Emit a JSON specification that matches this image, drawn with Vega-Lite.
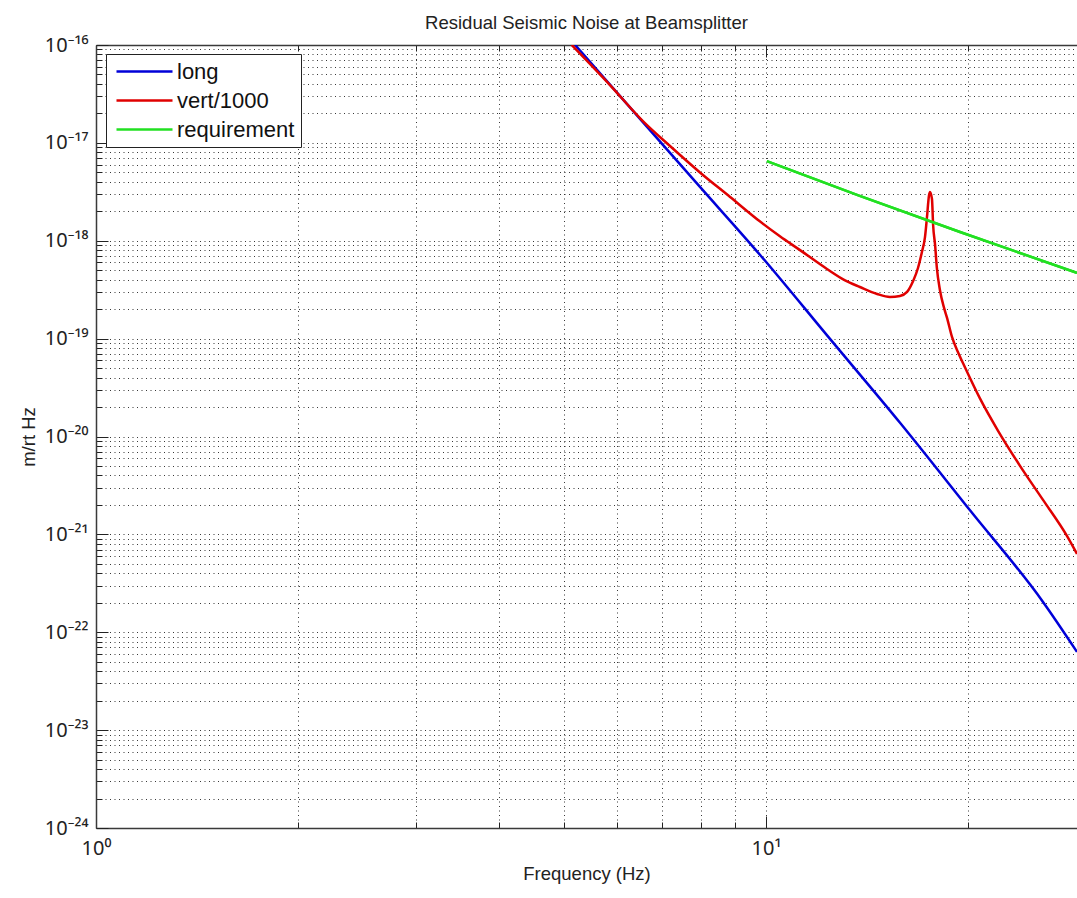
{
  "$schema": "https://vega.github.io/schema/vega-lite/v6.json",
  "autosize": {"type": "none"},
  "padding": {"left": 96, "top": 45, "right": 0, "bottom": 70},
  "width": 981,
  "height": 783,
  "background": "white",
  "title": {"text": "Residual Seismic Noise at Beamsplitter", "font": "Liberation Sans", "fontSize": 18.5, "fontWeight": "normal", "color": "#222", "offset": 3, "anchor": "middle"},
  "config": {"view": {"stroke": null}, "font": "Liberation Sans"},
  "data": {"values": [
    {"series": "long", "f": 5.19, "amp": 1.0e-16},
    {"series": "long", "f": 6.55, "amp": 1.63e-17},
    {"series": "long", "f": 7.97, "amp": 3.55e-18},
    {"series": "long", "f": 9.80, "amp": 7.16e-19},
    {"series": "long", "f": 12.46, "amp": 9.93e-20},
    {"series": "long", "f": 15.85, "amp": 1.38e-20},
    {"series": "long", "f": 20.16, "amp": 1.76e-21},
    {"series": "long", "f": 25.91, "amp": 2.04e-22},
    {"series": "long", "f": 29.12, "amp": 6.3e-23},
    {"series": "vert/1000", "f": 5.13, "amp": 1.0e-16},
    {"series": "vert/1000", "f": 5.85, "amp": 3.9e-17},
    {"series": "vert/1000", "f": 6.55, "amp": 1.67e-17},
    {"series": "vert/1000", "f": 7.19, "amp": 9.29e-18},
    {"series": "vert/1000", "f": 7.97, "amp": 4.99e-18},
    {"series": "vert/1000", "f": 8.84, "amp": 2.80e-18},
    {"series": "vert/1000", "f": 9.80, "amp": 1.57e-18},
    {"series": "vert/1000", "f": 10.49, "amp": 1.11e-18},
    {"series": "vert/1000", "f": 11.24, "amp": 8.02e-19},
    {"series": "vert/1000", "f": 12.33, "amp": 5.15e-19},
    {"series": "vert/1000", "f": 13.12, "amp": 3.94e-19},
    {"series": "vert/1000", "f": 13.81, "amp": 3.37e-19},
    {"series": "vert/1000", "f": 14.65, "amp": 2.86e-19},
    {"series": "vert/1000", "f": 15.31, "amp": 2.67e-19},
    {"series": "vert/1000", "f": 15.85, "amp": 2.73e-19},
    {"series": "vert/1000", "f": 16.24, "amp": 3.0e-19},
    {"series": "vert/1000", "f": 16.58, "amp": 3.88e-19},
    {"series": "vert/1000", "f": 16.86, "amp": 5.27e-19},
    {"series": "vert/1000", "f": 17.09, "amp": 7.69e-19},
    {"series": "vert/1000", "f": 17.27, "amp": 1.09e-18},
    {"series": "vert/1000", "f": 17.39, "amp": 1.75e-18},
    {"series": "vert/1000", "f": 17.51, "amp": 2.9e-18},
    {"series": "vert/1000", "f": 17.57, "amp": 3.15e-18},
    {"series": "vert/1000", "f": 17.69, "amp": 2.67e-18},
    {"series": "vert/1000", "f": 17.76, "amp": 1.45e-18},
    {"series": "vert/1000", "f": 17.88, "amp": 9.06e-19},
    {"series": "vert/1000", "f": 17.99, "amp": 5.27e-19},
    {"series": "vert/1000", "f": 18.18, "amp": 3.14e-19},
    {"series": "vert/1000", "f": 18.44, "amp": 2.06e-19},
    {"series": "vert/1000", "f": 18.63, "amp": 1.63e-19},
    {"series": "vert/1000", "f": 18.95, "amp": 1.04e-19},
    {"series": "vert/1000", "f": 19.34, "amp": 7.31e-20},
    {"series": "vert/1000", "f": 19.82, "amp": 5.07e-20},
    {"series": "vert/1000", "f": 20.86, "amp": 2.45e-20},
    {"series": "vert/1000", "f": 22.19, "amp": 1.15e-20},
    {"series": "vert/1000", "f": 23.94, "amp": 5.01e-21},
    {"series": "vert/1000", "f": 25.91, "amp": 2.25e-21},
    {"series": "vert/1000", "f": 28.13, "amp": 9.66e-22},
    {"series": "vert/1000", "f": 29.12, "amp": 6.32e-22},
    {"series": "requirement", "f": 10.03, "amp": 6.5e-18},
    {"series": "requirement", "f": 13.8, "amp": 2.87e-18},
    {"series": "requirement", "f": 19.48, "amp": 1.23e-18},
    {"series": "requirement", "f": 29.12, "amp": 4.69e-19}
  ]},
  "layer": [
    {
      "mark": {"type": "line", "strokeWidth": 2.5, "clip": true, "interpolate": "monotone"},
      "encoding": {
        "x": {
          "field": "f", "type": "quantitative",
          "scale": {"type": "log", "domain": [1, 29.12], "nice": false},
          "title": "Frequency (Hz)",
          "axis": {
            "orient": "bottom",
            "values": [1, 2, 3, 4, 5, 6, 7, 8, 9, 10, 20],
            "labelExpr": "datum.value == 1 ? '10⁰' : (datum.value == 10 ? '10¹' : '')",
            "labelFlush": false, "labelOverlap": false,
            "labelFont": "Noto Sans", "labelFontSize": 20, "labelColor": "#222", "labelPadding": 22,
            "titleFont": "Liberation Sans", "titleFontSize": 18.5, "titleFontWeight": "normal", "titleColor": "#222", "titlePadding": 0,
            "domain": true, "domainColor": "#3a3a3a", "domainWidth": 1.5,
            "ticks": true, "tickColor": "#222", "tickWidth": 1,
            "tickSize": {"condition": {"test": "datum.value == 1 || datum.value == 10", "value": -12}, "value": -6},
            "grid": true, "gridColor": "#222", "gridDash": [1, 3.5], "gridWidth": 1, "gridOpacity": 0.9
          }
        },
        "y": {
          "field": "amp", "type": "quantitative",
          "scale": {"type": "log", "domain": [1e-24, 1e-16], "nice": false},
          "title": "m/rt Hz",
          "axis": {
            "orient": "left",
            "values": [1e-24,2e-24,3e-24,4e-24,5e-24,6e-24,7e-24,8e-24,9e-24,
                       1e-23,2e-23,3e-23,4e-23,5e-23,6e-23,7e-23,8e-23,9e-23,
                       1e-22,2e-22,3e-22,4e-22,5e-22,6e-22,7e-22,8e-22,9e-22,
                       1e-21,2e-21,3e-21,4e-21,5e-21,6e-21,7e-21,8e-21,9e-21,
                       1e-20,2e-20,3e-20,4e-20,5e-20,6e-20,7e-20,8e-20,9e-20,
                       1e-19,2e-19,3e-19,4e-19,5e-19,6e-19,7e-19,8e-19,9e-19,
                       1e-18,2e-18,3e-18,4e-18,5e-18,6e-18,7e-18,8e-18,9e-18,
                       1e-17,2e-17,3e-17,4e-17,5e-17,6e-17,7e-17,8e-17,9e-17,
                       1e-16],
            "labelExpr": "abs(log(datum.value)/LN10 - round(log(datum.value)/LN10)) < 0.01 ? '10' + ['⁻¹⁶','⁻¹⁷','⁻¹⁸','⁻¹⁹','⁻²⁰','⁻²¹','⁻²²','⁻²³','⁻²⁴'][-16 - round(log(datum.value)/LN10)] : ''",
            "labelOverlap": false, "labelFlush": false,
            "labelFont": "Noto Sans", "labelFontSize": 20, "labelColor": "#222", "labelPadding": 20,
            "titleFont": "Liberation Sans", "titleFontSize": 18.5, "titleFontWeight": "normal", "titleColor": "#222", "titlePadding": 6,
            "domain": true, "domainColor": "#3a3a3a", "domainWidth": 1.5,
            "ticks": true, "tickColor": "#222", "tickWidth": 1,
            "tickSize": {"condition": {"test": "abs(log(datum.value)/LN10 - round(log(datum.value)/LN10)) < 0.01", "value": -12}, "value": -6},
            "grid": true, "gridColor": "#222", "gridDash": [1, 3.5], "gridWidth": 1, "gridOpacity": 0.9
          }
        },
        "color": {
          "field": "series", "type": "nominal",
          "scale": {"domain": ["long", "vert/1000", "requirement"], "range": ["#0000d8", "#e00000", "#22e022"]},
          "legend": {
            "orient": "none", "legendX": 10, "legendY": 9,
            "title": null,
            "strokeColor": "#222", "fillColor": "white", "padding": 6,
            "symbolType": "M-2.8,0H2.8", "symbolSize": 400, "symbolStrokeWidth": 2.5, "symbolOffset": 21,
            "labelFont": "Liberation Sans", "labelFontSize": 22, "labelColor": "#111", "labelOffset": 21,
            "rowPadding": 6, "cornerRadius": 0
          }
        }
      }
    },
    {
      "transform": [{"filter": "datum.series == 'requirement'"}],
      "mark": {"type": "line", "strokeWidth": 2.5, "color": "#22e022", "clip": true},
      "encoding": {
        "x": {
          "field": "f", "type": "quantitative",
          "scale": {"type": "log", "domain": [1, 29.12], "nice": false},
          "axis": {
            "orient": "top", "title": null, "labels": false, "grid": false,
            "values": [1, 2, 3, 4, 5, 6, 7, 8, 9, 10, 20],
            "domain": true, "domainColor": "#3a3a3a", "domainWidth": 1.5,
            "ticks": true, "tickColor": "#222", "tickWidth": 1,
            "tickSize": {"condition": {"test": "datum.value == 1 || datum.value == 10", "value": -12}, "value": -6}
          }
        },
        "y": {
          "field": "amp", "type": "quantitative",
          "scale": {"type": "log", "domain": [1e-24, 1e-16], "nice": false},
          "title": "m/rt Hz"
        }
      }
    }
  ],
  "resolve": {"axis": {"x": "independent"}}
}
